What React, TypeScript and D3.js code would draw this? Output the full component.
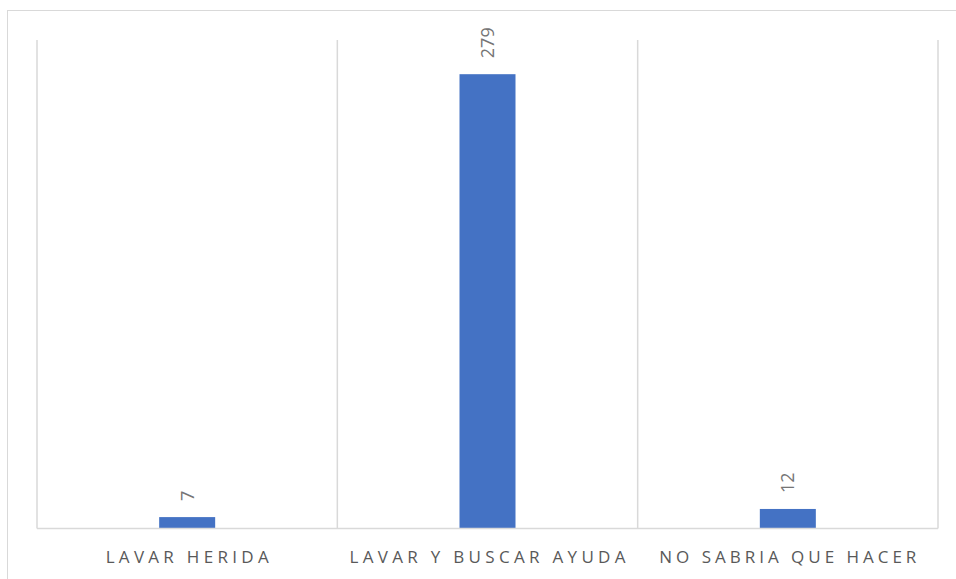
import React from "react";
import * as d3 from "d3";

const categories = ["LAVAR HERIDA", "LAVAR Y BUSCAR AYUDA", "NO SABRIA QUE HACER"];
const values = [7, 279, 12];
const labelWidths = [163, 276, 257];

const W = 956;
const H = 579;
const plot = { left: 37, right: 938, top: 40, bottom: 528.5 };

export default function App() {
  const x = d3
    .scaleBand<string>()
    .domain(categories)
    .range([plot.left, plot.right])
    .paddingInner(0)
    .paddingOuter(0);
  const y = d3.scaleLinear().domain([0, 300]).range([plot.bottom, plot.top]);
  const bw = 56;
  const grid = categories.map((c) => x(c)!).concat([plot.right]);

  return (
    <svg
      width={W}
      height={H}
      style={{ position: "absolute", left: 0, top: 0, background: "#fff" }}
    >
      <rect x={7.5} y={10.5} width={1000} height={1000} fill="#fff" stroke="#d9d9d9" strokeWidth={1} />
      {grid.map((gx, i) => (
        <line key={i} x1={gx} x2={gx} y1={plot.top} y2={plot.bottom} stroke="#d9d9d9" strokeWidth={1.5} />
      ))}
      {categories.map((c, i) => {
        const cx = x(c)! + x.bandwidth() / 2;
        const top = y(values[i]);
        return (
          <g key={c}>
            <rect x={cx - bw / 2} y={top} width={bw} height={plot.bottom - top} fill="#4472C4" />
            <text
              transform={`translate(${cx + 6.5},${top - 16}) rotate(-90)`}
              fontFamily="Open Sans"
              fontSize={18}
              fill="#757575"
              textAnchor="start"
            >
              {values[i]}
            </text>
            <text
              x={cx}
              y={563}
              fontFamily="Open Sans"
              fontSize={17}
              fill="#595959"
              textAnchor="middle"
              textLength={labelWidths[i]}
              lengthAdjust="spacing"
            >
              {c}
            </text>
          </g>
        );
      })}
      <line x1={plot.left} x2={plot.right} y1={plot.bottom} y2={plot.bottom} stroke="#d9d9d9" strokeWidth={1.5} />
    </svg>
  );
}
